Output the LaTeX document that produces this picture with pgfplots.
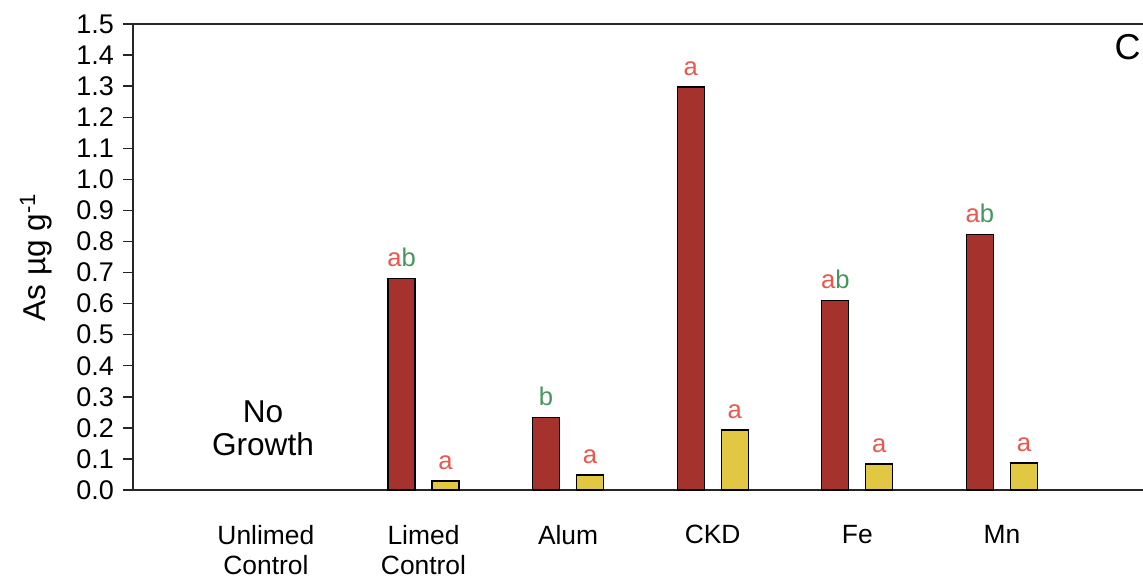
\documentclass[border=0pt]{standalone}
\usepackage{pgfplots}
\pgfplotsset{compat=1.18}
\usepackage{fontspec}
\setmainfont{Liberation Sans}
\definecolor{barred}{RGB}{166,50,46}
\definecolor{baryel}{RGB}{226,200,66}
\definecolor{lred}{RGB}{232,88,78}
\definecolor{lgreen}{RGB}{70,150,95}
\DeclareRobustCommand\ra{\textcolor{lred}{a}}
\DeclareRobustCommand\gb{\textcolor{lgreen}{b}}
\begin{document}
\begin{tikzpicture}
\path[use as bounding box] (-66.5pt,-44.5pt) rectangle (505pt,245pt);
\begin{axis}[
  at={(0,0)}, anchor=south west,
  scale only axis, width=505pt, height=233pt,
  xmin=-1.009, xmax=5.976, ymin=0, ymax=1.5,
  axis x line=box, axis y line=left,
  axis line style={-, line width=0.8pt, black!85},
  xtick={-0.09,1,2,3,4,5},
  xticklabels={{Unlimed\\Control},{Limed\\Control},Alum,CKD,Fe,Mn},
  xtick style={draw=none},
  xticklabel style={align=center, font=\fontsize{13.2}{15}\selectfont, anchor=north, yshift=-9pt},
  ytick={0,0.1,0.2,0.3,0.4,0.5,0.6,0.7,0.8,0.9,1.0,1.1,1.2,1.3,1.4,1.5},
  yticklabel style={font=\fontsize{13.5}{14}\selectfont, xshift=-1pt, /pgf/number format/.cd, fixed, fixed zerofill, precision=1, assume math mode=true},
  tick align=outside, major tick length=5pt,
  ytick style={line width=0.7pt, black!85},
  ylabel={As µg g\textsuperscript{-1}},
  ylabel style={at={(axis description cs:-0.096,0.5)}, anchor=center, font=\fontsize{15.8}{17}\selectfont},
  every node near coord/.append style={anchor=south, inner sep=0pt, yshift=5.5pt, font=\fontsize{12.8}{14}\selectfont},
]
\addplot[ybar, bar width=13.5pt, bar shift=0pt, fill=barred, draw=black, line width=0.6pt,
  nodes near coords, point meta=explicit symbolic]
  coordinates {(0.848,0.682)[\ra\gb] (1.848,0.233)[\gb] (2.848,1.297)[\ra] (3.848,0.610)[\ra\gb] (4.848,0.823)[\ra\gb]};
\addplot[ybar, bar width=13.5pt, bar shift=0pt, fill=baryel, draw=black, line width=0.6pt,
  nodes near coords, point meta=explicit symbolic]
  coordinates {(1.152,0.029)[\ra] (2.152,0.048)[\ra] (3.152,0.193)[\ra] (4.152,0.084)[\ra] (5.152,0.087)[\ra]};
\node[align=center, font=\fontsize{15.8}{16.5}\selectfont] at (axis cs:-0.11,0.2) {No\\Growth};
\node[font=\fontsize{18}{19}\selectfont] at (axis cs:5.87,1.426) {C};
\end{axis}
\end{tikzpicture}
\end{document}
